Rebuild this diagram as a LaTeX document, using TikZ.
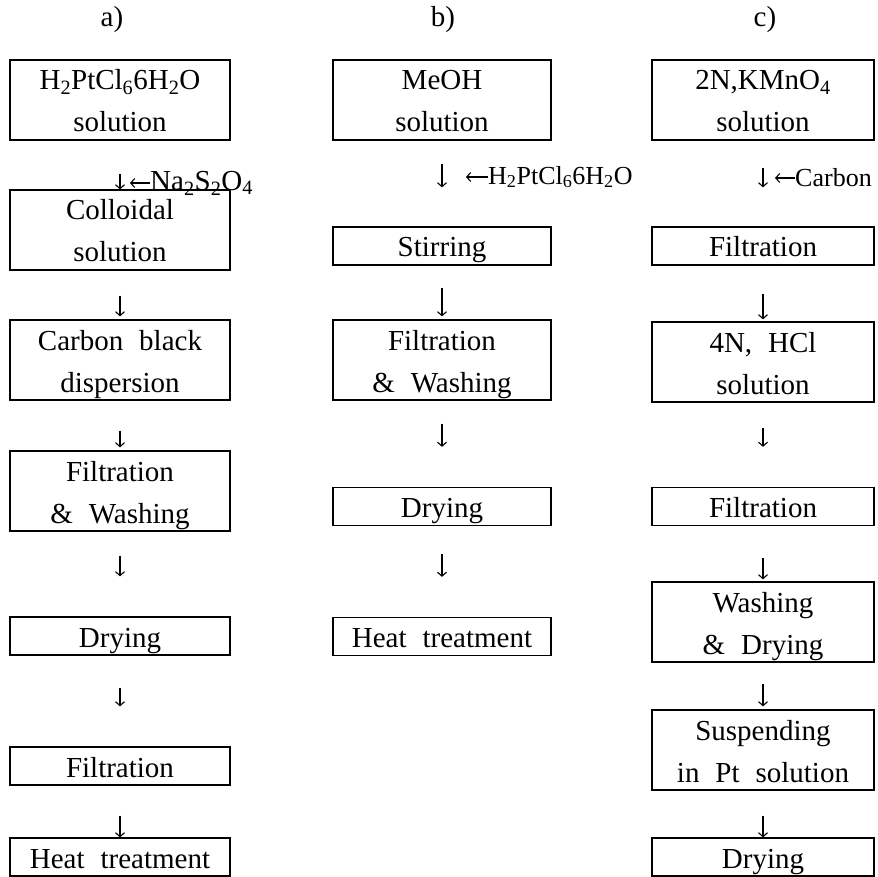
\documentclass[tikz,border=0pt]{standalone}
\usepackage{fontspec}
\setmainfont{Liberation Serif}[WordSpace=2.2]
\usetikzlibrary{arrows.meta,positioning}

\tikzset{
  tallbox/.style={draw, line width=1.2pt, align=center, inner sep=0pt, minimum height=80pt,
    text height=70pt, text depth=6pt},
  flatbox/.style={draw, line width=1.2pt, align=center, inner sep=0pt, minimum height=38pt,
    text height=28pt, text depth=6pt},
  flow/.style={line width=1.1pt, -{Straight Barb[length=4pt,width=9pt]}},
  reagent/.style={anchor=west, inner sep=0pt}
}

\begin{document}
\begin{tikzpicture}[x=1pt, y=-1pt, every node/.style={font=\fontsize{29}{42}\selectfont}]
  \useasboundingbox (0,0) rectangle (878,877);

  % headings
  \node (heada) at (112,20) {a)};
  \node (headb) at (443,20) {b)};
  \node (headc) at (765,20) {c)};

  % column a
  \node[tallbox, minimum width=220pt] (a1) at (120,100) {H\textsubscript{2}PtCl\textsubscript{6}6H\textsubscript{2}O\\solution};
  \node[tallbox, minimum width=220pt] (a2) at (120,230) {Colloidal\\solution};
  \node[tallbox, minimum width=220pt] (a3) at (120,360) {Carbon black\\dispersion};
  \node[tallbox, minimum width=220pt] (a4) at (120,491) {Filtration\\\& Washing};
  \node[flatbox, minimum width=220pt] (a5) at (120,636) {Drying};
  \node[flatbox, minimum width=220pt] (a6) at (120,766) {Filtration};
  \node[flatbox, minimum width=220pt] (a7) at (120,857) {Heat treatment};

  % column b
  \node[tallbox, minimum width=218pt] (b1) at (442,100) {MeOH\\solution};
  \node[flatbox, minimum width=218pt] (b2) at (442,246) {Stirring};
  \node[tallbox, minimum width=218pt] (b3) at (442,360) {Filtration\\\& Washing};
  \node[flatbox, minimum width=218pt] (b4) at (442,506.5) {Drying};
  \node[flatbox, minimum width=218pt] (b5) at (442,636.5) {Heat treatment};

  % column c
  \node[tallbox, minimum width=222pt] (c1) at (763,100) {2N,KMnO\textsubscript{4}\\solution};
  \node[flatbox, minimum width=222pt] (c2) at (763,246) {Filtration};
  \node[tallbox, minimum width=222pt] (c3) at (763,362) {4N, HCl\\solution};
  \node[flatbox, minimum width=222pt] (c4) at (763,506.5) {Filtration};
  \node[tallbox, minimum width=222pt] (c5) at (763,622) {Washing\\\& Drying};
  \node[tallbox, minimum width=222pt] (c6) at (763,750) {Suspending\\in Pt solution};
  \node[flatbox, minimum width=222pt] (c7) at (763,857) {Drying};

  % added reagents
  \node[reagent] (naso) at (150,183) {Na\textsubscript{2}S\textsubscript{2}O\textsubscript{4}};
  \node[reagent, font=\fontsize{26}{30}\selectfont] (ptcl) at (488,177) {H\textsubscript{2}PtCl\textsubscript{6}6H\textsubscript{2}O};
  \node[reagent, font=\fontsize{26}{30}\selectfont] (carb) at (795,178) {Carbon};
  \coordinate[left=20pt of naso] (nasoend);
  \coordinate[left=22pt of ptcl] (ptclend);
  \coordinate[left=20pt of carb] (carbend);

  % flow arrows
  \draw[flow, shorten <=33pt] (a1) -- (a2);
  \draw[flow, shorten <=25pt, shorten >=3pt] (a2) -- (a3);
  \draw[flow, shorten <=30pt, shorten >=3pt] (a3) -- (a4);
  \draw[flow, shorten <=24pt, shorten >=40pt] (a4) -- (a5);
  \draw[flow, shorten <=32pt, shorten >=40pt] (a5) -- (a6);
  \draw[flow, shorten <=30pt] (a6) -- (a7);

  \draw[flow, shorten <=23pt, shorten >=39pt] (b1) -- (b2);
  \draw[flow, shorten <=22pt, shorten >=3pt] (b2) -- (b3);
  \draw[flow, shorten <=23pt, shorten >=40pt] (b3) -- (b4);
  \draw[flow, shorten <=28pt, shorten >=40pt] (b4) -- (b5);

  \draw[flow, shorten <=27pt, shorten >=39pt] (c1) -- (c2);
  \draw[flow, shorten <=28pt, shorten >=2pt] (c2) -- (c3);
  \draw[flow, shorten <=25pt, shorten >=40pt] (c3) -- (c4);
  \draw[flow, shorten <=32pt, shorten >=2pt] (c4) -- (c5);
  \draw[flow, shorten <=21pt, shorten >=3pt] (c5) -- (c6);
  \draw[flow, shorten <=25pt] (c6) -- (c7);

  \draw[flow] (naso.west) -- (nasoend);
  \draw[flow] (ptcl.west) -- (ptclend);
  \draw[flow] (carb.west) -- (carbend);
\end{tikzpicture}
\end{document}
